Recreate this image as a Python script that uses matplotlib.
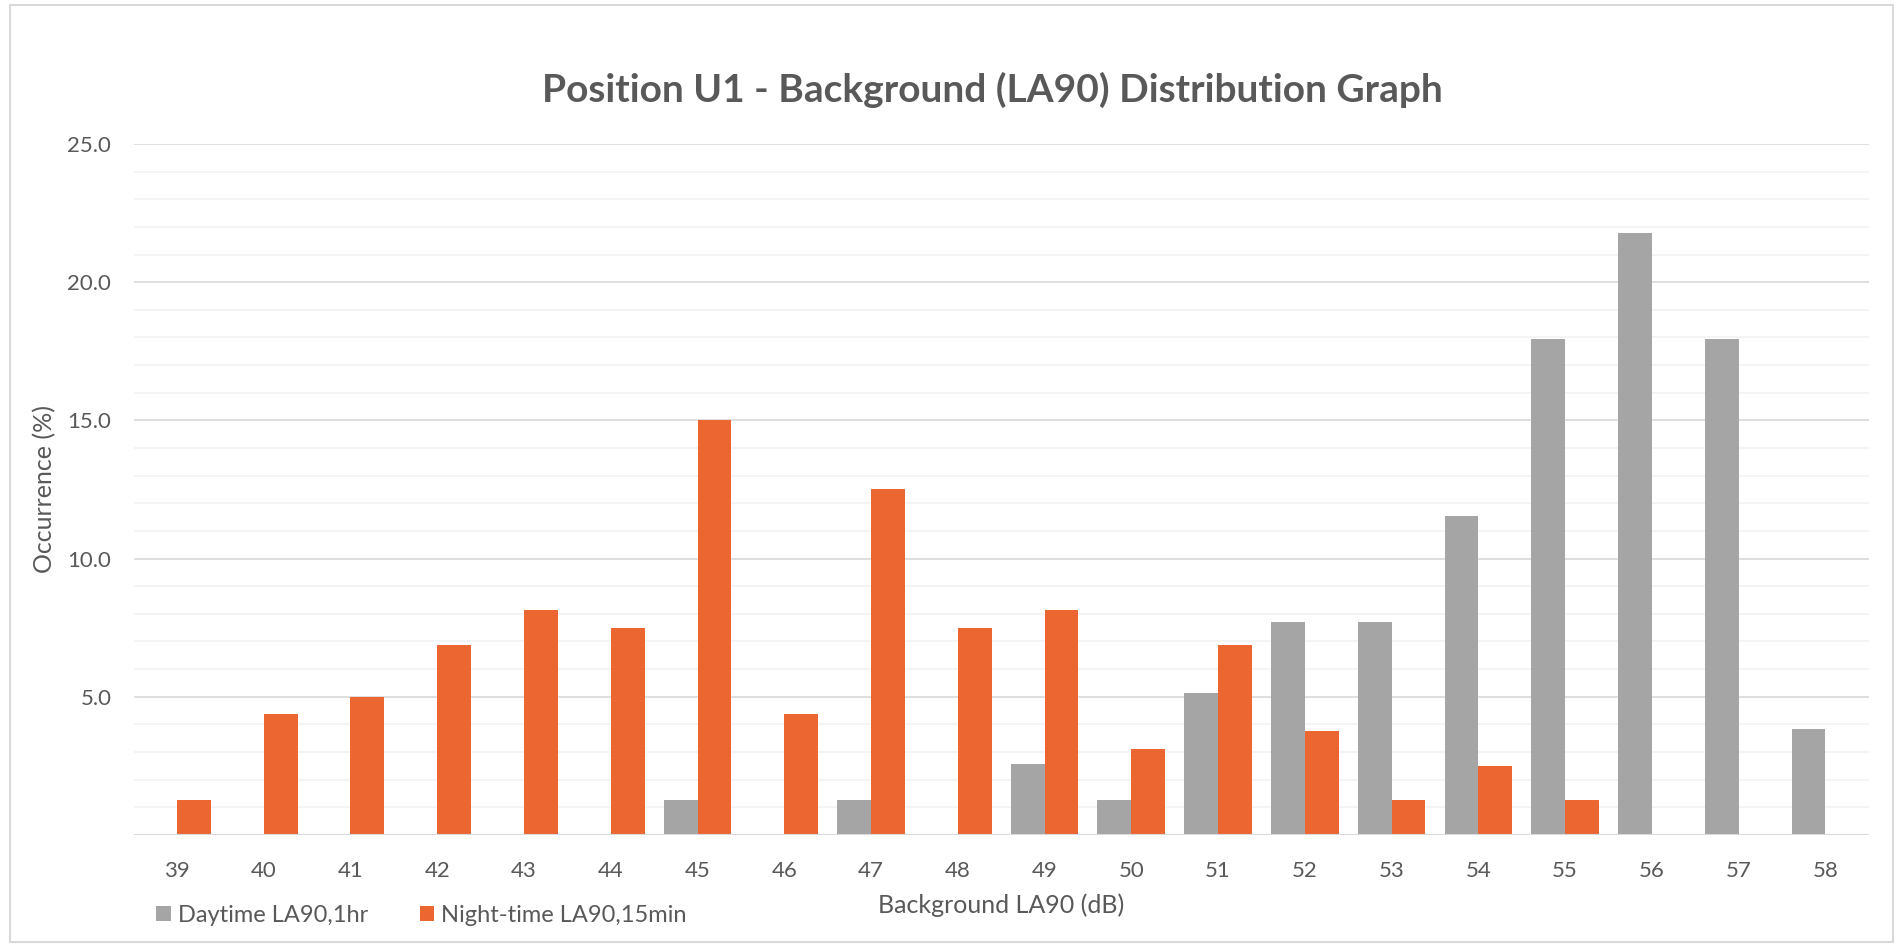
import matplotlib.pyplot as plt
import numpy as np
from matplotlib.patches import Rectangle

# --- data ---
levels = [39, 40, 41, 42, 43, 44, 45, 46, 47, 48, 49, 50, 51, 52, 53, 54, 55, 56, 57, 58]
day_pct = [0, 0, 0, 0, 0, 0, 1.28, 0, 1.28, 0, 2.56, 1.28, 5.13, 7.69, 7.69, 11.54, 17.95, 21.79, 17.95, 3.85]
night_pct = [1.25, 4.375, 5.0, 6.875, 8.125, 7.5, 15.0, 4.375, 12.5, 7.5, 8.125, 3.125, 6.875, 3.75, 1.25, 2.5, 1.25, 0, 0, 0]

GREY = '#A5A5A5'
ORANGE = '#EC6632'
TXT = '#595959'

plt.rcParams['font.family'] = ['Lato', 'DejaVu Sans']

fig = plt.figure(figsize=(19.03, 9.47), dpi=100)
ax = fig.add_axes([0.0702, 0.1183, 0.9118, 0.7297])

x = np.arange(len(levels))
w = 0.39
ax.bar(x - w / 2, day_pct, width=w, color=GREY, label='Daytime LA90,1hr', zorder=3)
ax.bar(x + w / 2, night_pct, width=w, color=ORANGE, label='Night-time LA90,15min', zorder=3)

ax.set_xlim(-0.5, len(levels) - 0.5)
ax.set_ylim(0, 25)
ax.set_yticks(np.arange(5, 26, 5))
ax.set_yticklabels([f'{v:.1f}' for v in np.arange(5, 26, 5)])
ax.set_yticks(np.arange(0, 26, 1), minor=True)
ax.set_xticks(x)
ax.set_xticklabels([str(v) for v in levels])

ax.grid(axis='y', which='minor', color='#F2F2F2', linewidth=1.2, zorder=0)
ax.grid(axis='y', which='major', color='#D9D9D9', linewidth=1.2, zorder=1)
ax.axhline(0, color='#D9D9D9', linewidth=1.5, zorder=4)

for s in ax.spines.values():
    s.set_visible(False)
ax.tick_params(axis='both', which='both', length=0, colors=TXT, labelsize=16)
ax.tick_params(axis='x', pad=19)
ax.tick_params(axis='y', pad=16)

ax.set_ylabel('Occurrence (%)', color=TXT, fontsize=18, labelpad=8)
ax.set_xlabel('Background LA90 (dB)', color=TXT, fontsize=18, labelpad=9)
fig.text(0.5215, 0.905, 'Position U1 - Background (LA90) Distribution Graph',
         ha='center', va='center', fontsize=28, fontweight='bold', color=TXT)

fig.legend(loc='lower left', bbox_to_anchor=(0.071, 0.0), ncol=2, frameon=False,
           fontsize=17, labelcolor=TXT, handlelength=0.6, handleheight=0.6,
           handletextpad=0.3, columnspacing=2.2)

# outer chart border
fig.patches.append(Rectangle((0.005, 0.005), 0.99, 0.99, transform=fig.transFigure,
                             fill=False, edgecolor='#D9D9D9', linewidth=1.5))

fig.savefig('out.png', dpi=100)
